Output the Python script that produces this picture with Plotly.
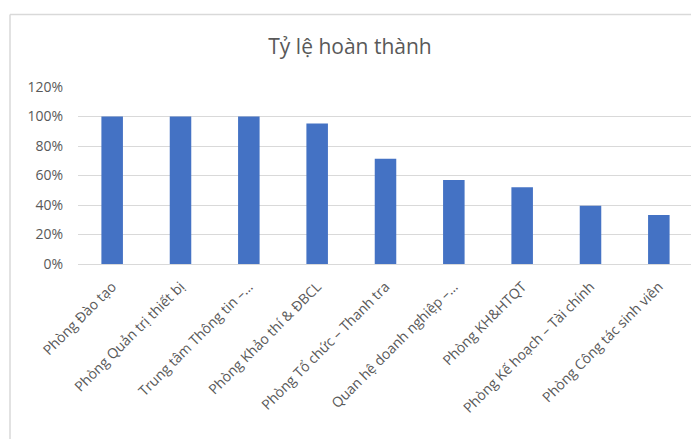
import plotly.graph_objects as go

categories = [
    "Phòng Đào tạo",
    "Phòng Quản trị thiết bị",
    "Trung tâm Thông tin –…",
    "Phòng Khảo thí & ĐBCL",
    "Phòng Tổ chức – Thanh tra",
    "Quan hệ doanh nghiệp –…",
    "Phòng KH&HTQT",
    "Phòng Kế hoạch – Tài chính",
    "Phòng Công tác sinh viên",
]
values = [1.0, 1.0, 1.0, 0.952, 0.714, 0.57, 0.52, 0.395, 0.333]
y_ticks = [0, 0.2, 0.4, 0.6, 0.8, 1.0, 1.2]
y_tick_labels = ["0%", "20%", "40%", "60%", "80%", "100%", "120%"]

W, H = 699, 439
OFF = 8  # page body margin offset
L, R, T, B = 78 - OFF, 6 + OFF, 87 - OFF, 175 + OFF
pw, ph = W - L - R, H - T - B

def px_x(x):
    return (x - OFF - L) / pw

def px_y(y):
    return (H - B - (y - OFF)) / ph

fig = go.Figure(go.Bar(
    x=categories, y=values, marker_color="#4472C4", width=0.315,
    marker_line_width=0,
))

border = "#d9d9d9"
fig.add_shape(type="line", xref="paper", yref="paper",
              x0=px_x(10), x1=px_x(W + 10), y0=px_y(14.5), y1=px_y(14.5),
              line=dict(color=border, width=1.5))
fig.add_shape(type="line", xref="paper", yref="paper",
              x0=px_x(10), x1=px_x(10), y0=px_y(14.5), y1=px_y(H + 10),
              line=dict(color=border, width=1.5))

font = "Open Sans"
fig.update_layout(
    width=W, height=H,
    margin=dict(l=L, r=R, t=T, b=B, autoexpand=False),
    paper_bgcolor="white", plot_bgcolor="white",
    showlegend=False,
    title=dict(text="Tỷ lệ hoàn thành", x=(350 - OFF) / W, xref="container",
               y=1 - (47 - OFF) / H, yref="container", yanchor="middle", xanchor="center",
               font=dict(family=font, size=21, color="#595959")),
    font=dict(family=font, color="#595959"),
)
fig.update_xaxes(tickangle=-45, tickfont=dict(size=14, color="#595959", family=font),
                 showgrid=False, showline=True, linecolor="#d9d9d9", ticks="",
                 automargin=False, ticklabelstandoff=8)
fig.update_yaxes(range=[0, 1.2], tickvals=y_ticks, ticktext=y_tick_labels,
                 tickfont=dict(size=14, color="#595959", family=font),
                 showgrid=True, gridcolor="#d9d9d9", gridwidth=1,
                 zeroline=False, showline=False, ticks="", ticklabelstandoff=14,
                 automargin=False)

fig.write_html("out.html")
